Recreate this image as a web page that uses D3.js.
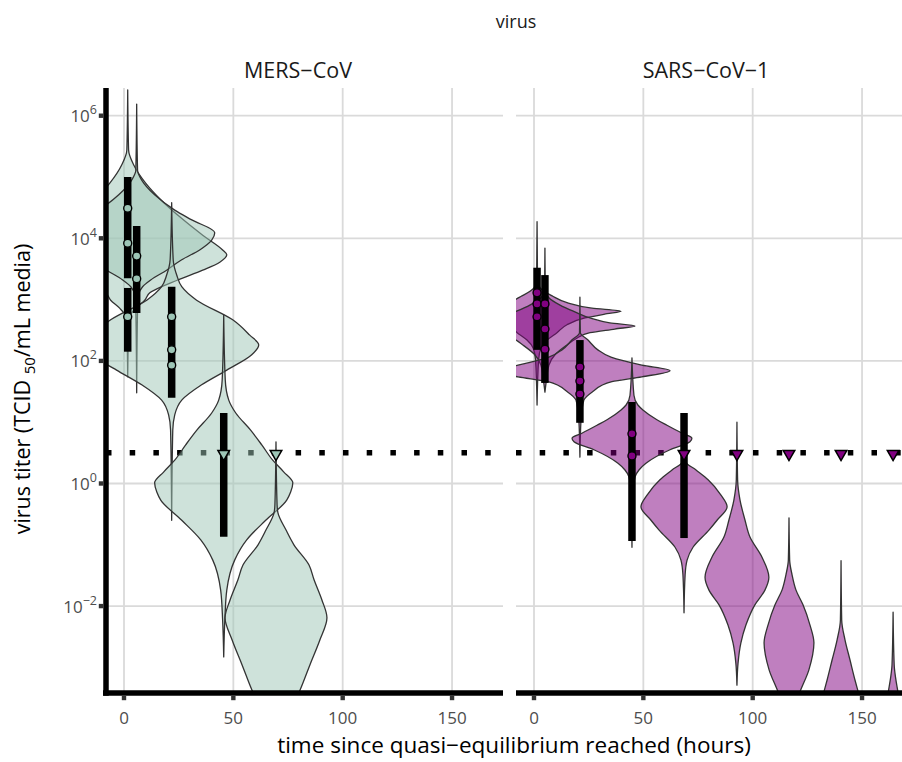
<!DOCTYPE html>
<html><head><meta charset="utf-8">
<script src="https://cdn.jsdelivr.net/npm/d3@7/dist/d3.min.js"></script>
<style>body{margin:0;background:#fff}svg{display:block}</style>
</head><body>
<svg id="chart" width="902" height="762"></svg>
<script>
// ---------------- data ----------------
const viruses = ["MERS−CoV", "SARS−CoV−1"];
const xTicks = [0, 50, 100, 150];
const yTickExponents = [-2, 0, 2, 4, 6];
const detectionLimit = 0.5; // log10 titer

// violin centres (hours) and profiles: [log10 titer, half-width in hours]
const mersViolinTimes = [1.7, 5.8, 21.8, 45.6, 69.5];
const mersViolinProfiles = [
  [[6.42,0],[5.44,0.4],[5.20,2.7],[4.90,8.2],[4.63,15.1],[4.35,23.8],[4.05,34.3],[3.81,43.4],[3.73,45.3],[3.61,42.1],[3.48,34.3],[3.32,22.9],[3.11,10.1],[2.99,7.8],[2.86,3.7],[2.72,0.9],[2.50,0.4],[1.74,0]],
  [[6.19,0],[5.11,0.4],[4.95,2.3],[4.71,8.2],[4.46,17.4],[4.30,25.2],[4.09,35.7],[3.97,34.3],[3.81,28.8],[3.65,20.6],[3.48,13.7],[3.32,6.4],[3.21,2.7],[3.08,0.9],[2.83,0.4],[1.48,0]],
  [[4.58,0],[3.65,0.7],[3.40,2.3],[3.21,4.6],[2.99,11.4],[2.67,27.9],[2.42,35.7],[2.26,39.8],[2.10,36.6],[1.85,25.2],[1.61,13.7],[1.36,4.6],[1.12,1.4],[0.87,0.5],[-0.60,0]],
  [[2.75,0],[1.69,0.7],[1.36,2.3],[1.15,5.5],[0.87,12.3],[0.63,17.4],[0.38,22.4],[0.19,27.4],[0.01,31.6],[-0.14,30.6],[-0.27,28.8],[-0.60,19.2],[-0.92,10.5],[-1.25,5.0],[-1.74,1.4],[-2.23,0.5],[-2.83,0]],
  [[0.68,0],[-0.35,0.5],[-0.48,0.9],[-0.76,4.6],[-1.00,8.2],[-1.33,15.1],[-1.57,17.4],[-1.90,21.0],[-2.19,23.3],[-2.55,20.1],[-2.96,15.5],[-3.37,11.0],[-3.86,4.6],[-4.27,0.9],[-4.51,0]]
];
const sarsViolinTimes = [1.4, 5.0, 21.0, 44.8, 68.6, 92.8, 116.6, 140.4, 164.2];
const sarsViolinProfiles = [
  [[4.27,0],[3.32,0.2],[3.19,1.4],[3.06,6.9],[2.95,13.7],[2.86,25.1],[2.81,38.4],[2.77,32.0],[2.70,21.9],[2.59,13.7],[2.46,9.1],[2.34,4.6],[2.21,1.8],[2.02,0.7],[1.28,0]],
  [[3.84,0],[3.16,0.2],[3.03,1.8],[2.91,6.9],[2.80,13.7],[2.70,20.6],[2.62,29.7],[2.57,41.2],[2.52,32.0],[2.46,20.6],[2.37,14.6],[2.26,10.1],[2.10,4.6],[1.93,1.8],[1.69,0.7],[1.49,0]],
  [[3.04,0],[2.46,0.2],[2.34,3.7],[2.18,8.2],[2.06,14.2],[1.93,28.3],[1.84,41.2],[1.74,28.3],[1.66,14.6],[1.49,5.5],[1.36,1.8],[1.04,0.5],[0.43,0]],
  [[2.05,0],[1.44,0.9],[1.28,2.7],[1.20,5.0],[1.04,11.4],[0.95,16.0],[0.82,22.9],[0.74,27.4],[0.68,26.5],[0.55,17.4],[0.33,6.4],[0.22,3.2],[0.11,1.4],[-0.11,0.5],[-1.04,0]],
  [[0.71,0],[0.35,0.9],[0.22,5.5],[0.06,11.0],[-0.19,16.9],[-0.38,19.7],[-0.60,15.1],[-0.76,11.4],[-1.04,4.1],[-1.25,1.4],[-1.49,0.5],[-2.11,0]],
  [[1.00,0],[0.06,0.3],[-0.27,1.4],[-0.60,3.7],[-0.87,5.9],[-1.20,11.4],[-1.53,14.6],[-1.74,12.8],[-1.98,8.2],[-2.31,4.1],[-2.60,1.8],[-2.93,0.5],[-3.29,0]],
  [[-0.56,0],[-1.25,0.3],[-1.49,1.4],[-1.74,3.2],[-1.98,6.4],[-2.31,9.6],[-2.60,11.4],[-3.04,9.1],[-3.42,4.8],[-3.70,2.3],[-4.02,0.7],[-4.35,0]],
  [[-1.26,0],[-2.23,0.3],[-2.55,1.8],[-2.88,4.1],[-3.21,6.4],[-3.42,8.0],[-3.70,10.1],[-4.10,11.0],[-4.51,8.2],[-5.00,2.7],[-5.49,0]],
  [[-2.10,0],[-2.96,0.5],[-3.16,1.1],[-3.42,2.3],[-3.86,4.1],[-4.51,5.5],[-5.16,2.7],[-5.65,0]]
];

// observed samples (hours, log10 titer)
const mersPointTimes = [1.7, 1.7, 1.7, 5.8, 5.8, 21.8, 21.8, 21.8];
const mersPointTiters = [4.49, 3.92, 2.72, 3.71, 3.34, 2.72, 2.18, 1.93];
const sarsPointTimes = [1.4, 1.4, 1.4, 5.0, 5.0, 5.0, 21.0, 21.0, 21.0, 44.8, 44.8];
const sarsPointTiters = [3.11, 2.93, 2.72, 2.93, 2.52, 2.19, 1.90, 1.67, 1.46, 0.81, 0.45];

// intervals (hours, low, high) in log10 titer
const mersIntervalTimes = [1.7, 1.7, 5.8, 21.8, 45.6];
const mersIntervalLow  = [3.35, 2.15, 2.78, 1.40, -0.87];
const mersIntervalHigh = [5.00, 3.19, 4.20, 3.21, 1.15];
const sarsIntervalTimes = [1.4, 5.0, 21.0, 44.8, 68.6];
const sarsIntervalLow  = [2.18, 1.64, 0.99, -0.94, -0.89];
const sarsIntervalHigh = [3.52, 3.40, 2.34, 1.33, 1.15];

// samples below detection (hours)
const mersCensoredTimes = [45.6, 69.5];
const sarsCensoredTimes = [68.6, 92.8, 116.6, 140.4, 164.2];

const fillColors = ["#9dc5b6", "#800080"];

// ---------------- layout ----------------
const panelTop = 88, panelBottom = 693;
const panelX = [[106, 503], [516, 913]];
const FONT = "'Open Sans', 'Noto Sans', sans-serif";

const svg = d3.select("#chart");
const y = d3.scaleLinear().domain([-3.418, 6.452]).range([panelBottom, panelTop]);

const panels = [
  {name: viruses[0], vt: mersViolinTimes, vp: mersViolinProfiles,
   pt: mersPointTimes, pv: mersPointTiters,
   it: mersIntervalTimes, il: mersIntervalLow, ih: mersIntervalHigh,
   ct: mersCensoredTimes, fill: fillColors[0]},
  {name: viruses[1], vt: sarsViolinTimes, vp: sarsViolinProfiles,
   pt: sarsPointTimes, pv: sarsPointTiters,
   it: sarsIntervalTimes, il: sarsIntervalLow, ih: sarsIntervalHigh,
   ct: sarsCensoredTimes, fill: fillColors[1]}
];

const defs = svg.append("defs");

panels.forEach((p, i) => {
  const [x0, x1] = panelX[i];
  const x = d3.scaleLinear().domain([-8.23, 173.3]).range([x0, x1]);
  const clipId = "clip" + i;
  defs.append("clipPath").attr("id", clipId).append("rect")
    .attr("x", x0).attr("y", panelTop).attr("width", x1 - x0).attr("height", panelBottom - panelTop);

  const g = svg.append("g");
  const inner = g.append("g").attr("clip-path", `url(#${clipId})`);

  // grid
  inner.selectAll(".gx").data(xTicks).join("line")
    .attr("x1", d => x(d)).attr("x2", d => x(d))
    .attr("y1", panelTop).attr("y2", panelBottom)
    .attr("stroke", "#dadada").attr("stroke-width", 1.8);
  inner.selectAll(".gy").data(yTickExponents).join("line")
    .attr("x1", x0).attr("x2", x1)
    .attr("y1", d => y(d)).attr("y2", d => y(d))
    .attr("stroke", "#dadada").attr("stroke-width", 1.8);

  // detection limit
  inner.append("line")
    .attr("x1", x0).attr("x2", x1)
    .attr("y1", y(detectionLimit)).attr("y2", y(detectionLimit))
    .attr("stroke", "#000").attr("stroke-width", 5.5)
    .attr("stroke-dasharray", "5.5 18.2");

  // violins
  p.vt.forEach((t, k) => {
    const area = d3.area()
      .y(d => y(d[0]))
      .x0(d => x(t - d[1]))
      .x1(d => x(t + d[1]))
      .curve(d3.curveMonotoneY);
    inner.append("path")
      .attr("d", area(p.vp[k]))
      .attr("fill", p.fill).attr("fill-opacity", 0.5)
      .attr("stroke", "#333").attr("stroke-width", 1.3)
      .attr("stroke-linejoin", "round");
  });

  // intervals
  p.it.forEach((t, k) => {
    inner.append("line")
      .attr("x1", x(t)).attr("x2", x(t))
      .attr("y1", y(p.ih[k])).attr("y2", y(p.il[k]))
      .attr("stroke", "#000").attr("stroke-width", 7.5);
  });

  // points
  p.pt.forEach((t, k) => {
    inner.append("circle")
      .attr("cx", x(t)).attr("cy", y(p.pv[k])).attr("r", 4)
      .attr("fill", p.fill).attr("stroke", "#000").attr("stroke-width", 1.4);
  });

  // censored triangles
  const tri = d3.symbol().type(d3.symbolTriangle).size(58);
  p.ct.forEach(t => {
    inner.append("path")
      .attr("d", tri())
      .attr("transform", `translate(${x(t)},${y(detectionLimit) + 1}) rotate(180)`)
      .attr("fill", p.fill).attr("stroke", "#000").attr("stroke-width", 1.5)
      .attr("stroke-linejoin", "miter");
  });

  // x axis
  g.append("line")
    .attr("x1", i === 0 ? x0 - 3 : x0).attr("x2", x1)
    .attr("y1", panelBottom).attr("y2", panelBottom)
    .attr("stroke", "#000").attr("stroke-width", 5.5);
  g.selectAll(".xt").data(xTicks).join("rect")
    .attr("x", d => x(d) - 2.2).attr("y", panelBottom + 2.7)
    .attr("width", 4.4).attr("height", 4.5).attr("fill", "#333");
  g.selectAll(".xl").data(xTicks).join("text")
    .attr("x", d => x(d)).attr("y", panelBottom + 31)
    .attr("text-anchor", "middle")
    .attr("font-family", FONT).attr("font-size", 17).attr("fill", "#4d4d4d")
    .text(d => d);

  // strip label
  svg.append("text")
    .attr("x", i === 0 ? 298 : 706).attr("y", 78)
    .attr("text-anchor", "middle")
    .attr("font-family", FONT).attr("font-size", 21.5).attr("fill", "#1a1a1a")
    .text(p.name);

  // y axis (first panel only)
  if (i === 0) {
    g.append("line")
      .attr("x1", x0).attr("x2", x0)
      .attr("y1", panelTop).attr("y2", panelBottom + 2.7)
      .attr("stroke", "#000").attr("stroke-width", 5.5);
    g.selectAll(".yt").data(yTickExponents).join("rect")
      .attr("x", x0 - 2.7 - 4.5).attr("y", d => y(d) - 2.2)
      .attr("width", 4.5).attr("height", 4.4).attr("fill", "#333");
    const yl = g.selectAll(".yl").data(yTickExponents).join("text")
      .attr("x", 97).attr("y", d => y(d) + 6.5)
      .attr("text-anchor", "end")
      .attr("font-family", FONT).attr("font-size", 17).attr("fill", "#4d4d4d");
    yl.append("tspan").text("10");
    yl.append("tspan").attr("dy", -8).attr("font-size", 12.5)
      .text(d => d < 0 ? "−" + Math.abs(d) : String(d));
  }
});

// titles
svg.append("text").attr("x", 516).attr("y", 28).attr("text-anchor", "middle")
  .attr("font-family", FONT).attr("font-size", 18).attr("fill", "#1a1a1a").text("virus");

svg.append("text").attr("x", 514).attr("y", 753).attr("text-anchor", "middle")
  .attr("font-family", FONT).attr("font-size", 22.5).attr("fill", "#000")
  .text("time since quasi−equilibrium reached (hours)");

const yt = svg.append("text")
  .attr("transform", "translate(30,389) rotate(-90)")
  .attr("text-anchor", "middle")
  .attr("font-family", FONT).attr("font-size", 21.5).attr("fill", "#000");
yt.append("tspan").text("virus titer (TCID ");
yt.append("tspan").attr("dy", 5).attr("font-size", 15).text("50");
yt.append("tspan").attr("dy", -5).text("/mL media)");
</script>
</body></html>
